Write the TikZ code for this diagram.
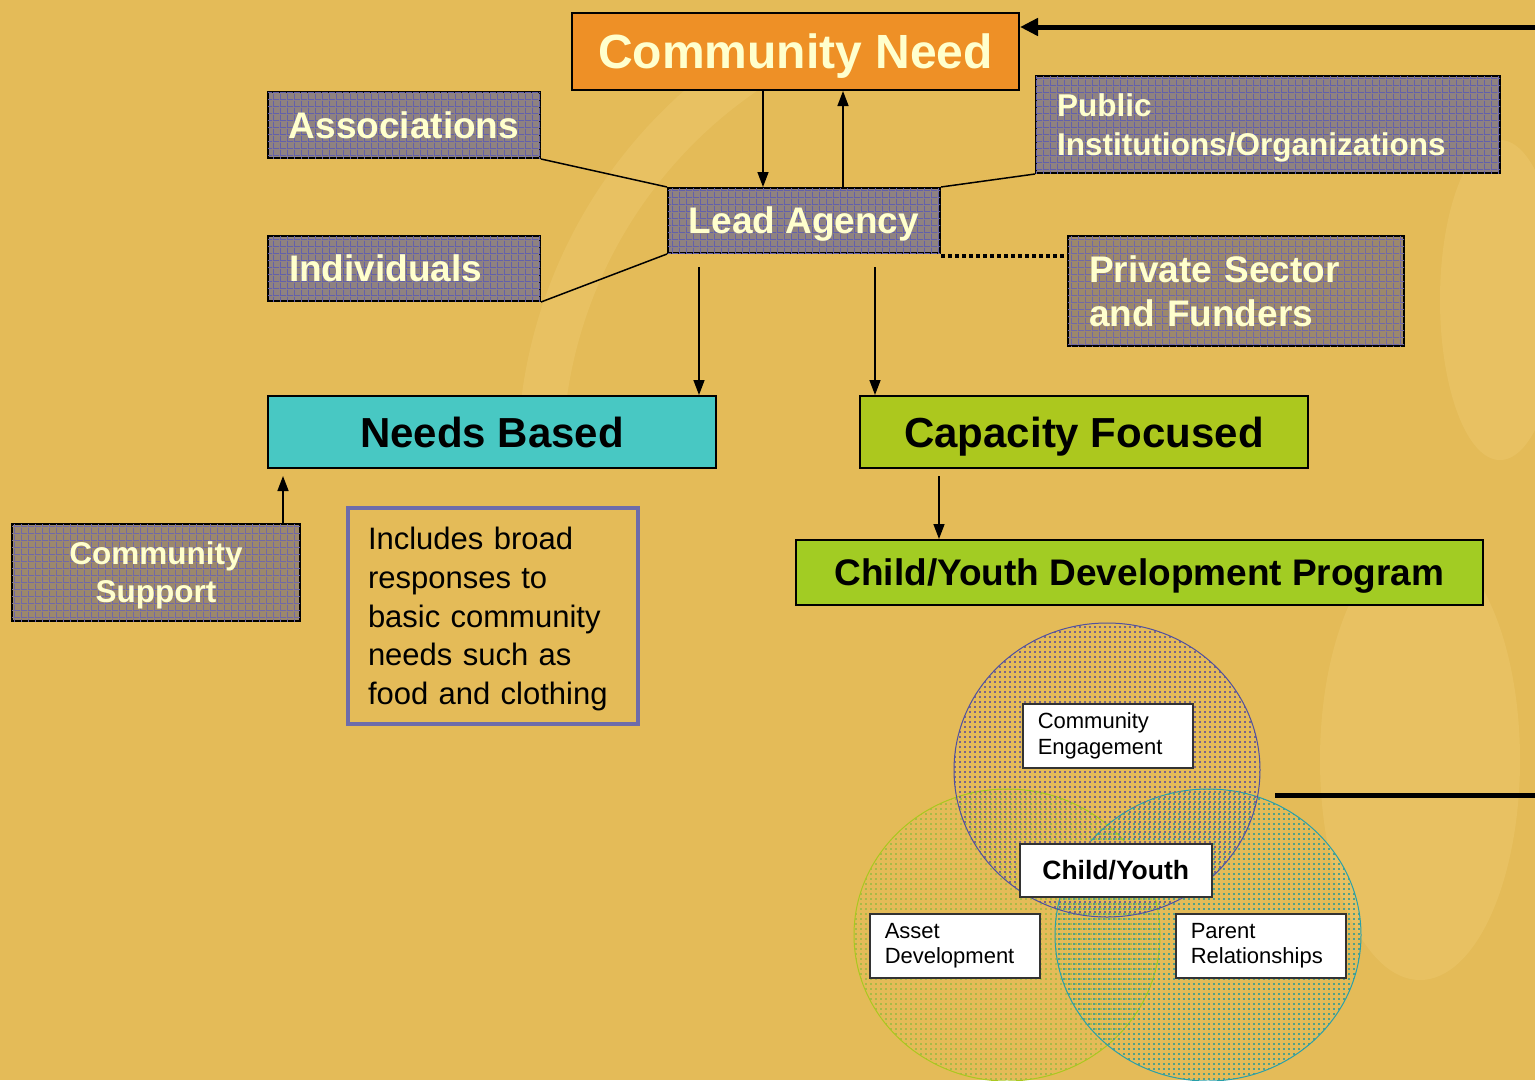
\documentclass[tikz,border=0pt]{standalone}
\usepackage{fontspec}
\setmainfont{Liberation Sans}
\usetikzlibrary{arrows.meta,patterns,calc}
\pgfdeclarepatternformonly{biggrid}{\pgfpointorigin}{\pgfqpoint{7pt}{7pt}}{\pgfqpoint{7pt}{7pt}}{%
  \pgfsetlinewidth{1pt}%
  \pgfpathmoveto{\pgfqpoint{0pt}{0.5pt}}\pgfpathlineto{\pgfqpoint{7pt}{0.5pt}}%
  \pgfpathmoveto{\pgfqpoint{0.5pt}{0pt}}\pgfpathlineto{\pgfqpoint{0.5pt}{7pt}}%
  \pgfusepath{stroke}}
\pgfdeclarepatternformonly{sqdots}{\pgfpointorigin}{\pgfqpoint{4.5pt}{4.5pt}}{\pgfqpoint{4.5pt}{4.5pt}}{%
  \pgfpathrectangle{\pgfqpoint{0pt}{0pt}}{\pgfqpoint{2pt}{2pt}}%
  \pgfusepath{fill}}
\definecolor{bgc}{RGB}{228,187,88}
\definecolor{bglight}{RGB}{238,203,115}
\definecolor{purp}{RGB}{143,130,128}
\definecolor{purpgrid}{RGB}{98,96,172}
\definecolor{brn}{RGB}{156,136,108}
\definecolor{brngrid}{RGB}{112,104,168}
\definecolor{orng}{RGB}{238,144,38}
\definecolor{cyn}{RGB}{72,200,195}
\definecolor{ygrn}{RGB}{172,200,30}
\definecolor{grn}{RGB}{162,204,35}
\definecolor{ltxt}{RGB}{255,255,205}
\definecolor{bluecirc}{RGB}{80,80,160}
\definecolor{greencirc}{RGB}{170,200,30}
\definecolor{tealcirc}{RGB}{40,160,170}
\definecolor{bluedot}{RGB}{120,100,140}
\definecolor{greendot}{RGB}{170,185,70}
\definecolor{tealdot}{RGB}{80,160,140}
\definecolor{incl}{RGB}{110,108,170}
\tikzset{
  box/.style={draw=black, line width=2pt, anchor=north west, inner sep=0pt},
  gridfill/.style={postaction={pattern=biggrid, pattern color=#1}},
  arr/.style={line width=1.5pt, -{Triangle[length=15pt,width=11pt]}},
  plain/.style={line width=1.5pt},
  whitebox/.style={draw=black!80, line width=1.5pt, fill=white, anchor=north west, inner sep=0pt},
  circ/.style={line width=1pt},
  label/.style={inner sep=0pt}
}
\begin{document}
\begin{tikzpicture}[x=1pt,y=-1pt]
\fill[bgc] (0,0) rectangle (1535,1080);
\useasboundingbox (0,0) rectangle (1535,1080);
% faint background swirls
\begin{scope}[opacity=0.4]
\draw[bglight, line width=45pt] (540,460) arc[start angle=180, end angle=242, x radius=470, y radius=470];
\fill[bglight] (1420,760) ellipse [x radius=100, y radius=220];
\fill[bglight] (1500,300) ellipse [x radius=60, y radius=160];
\end{scope}

% circles
\draw[circ, draw=greencirc, pattern=sqdots, pattern color=greendot] (1007,935) ellipse [x radius=153, y radius=146];
\draw[circ, draw=tealcirc, pattern=sqdots, pattern color=tealdot] (1208,935) ellipse [x radius=153, y radius=146];
\draw[circ, draw=bluecirc, pattern=sqdots, pattern color=bluedot] (1107,770) ellipse [x radius=153, y radius=147];

% boxes
\node[box, fill=orng, minimum width=447pt, minimum height=77pt, text=ltxt, text depth=0pt, font=\fontsize{48}{52}\selectfont\bfseries] (need) at (571,12) {Community Need};
\node[box, fill=purp, gridfill=purpgrid, minimum width=272pt, minimum height=66pt, text=ltxt, font=\fontsize{37}{42}\selectfont\bfseries] (assoc) at (267,91) {Associations};
\node[box, fill=purp, gridfill=purpgrid, minimum width=272pt, minimum height=65pt, text=ltxt, inner xsep=21pt, text width=230pt, align=left, font=\fontsize{37}{42}\selectfont\bfseries] (indiv) at (267,235) {Individuals};
\node[box, fill=purp, gridfill=purpgrid, minimum width=272pt, minimum height=65pt, text=ltxt, text depth=0pt, font=\fontsize{37}{42}\selectfont\bfseries] (lead) at (667,187) {Lead Agency};
\node[box, fill=purp, gridfill=purpgrid, minimum width=464pt, minimum height=97pt] (public) at (1035,75) {};
\node[label, text=ltxt, text width=422pt, align=left, font=\fontsize{31.5}{39}\selectfont\bfseries] (publict) at ([yshift=-3pt]public.center) {Public\\Institutions/Organizations};
\node[box, fill=brn, gridfill=brngrid, minimum width=336pt, minimum height=110pt, text=ltxt, inner xsep=21pt, text width=294pt, align=left, font=\fontsize{37}{44}\selectfont\bfseries] (private) at (1067,235) {Private Sector\\and Funders};
\node[box, fill=cyn, minimum width=448pt, minimum height=72pt, text=black, font=\fontsize{42}{46}\selectfont\bfseries] (needs) at (267,395) {Needs Based};
\node[box, fill=ygrn, minimum width=448pt, minimum height=72pt, text=black, text depth=0pt, font=\fontsize{42}{46}\selectfont\bfseries] (capacity) at (859,395) {Capacity Focused};
\node[box, fill=grn, minimum width=687pt, minimum height=65pt, text=black, text depth=0pt, font=\fontsize{37}{42}\selectfont\bfseries] (cydp) at (795,539) {Child/Youth Development Program};
\node[box, fill=brn, gridfill=brngrid, minimum width=288pt, minimum height=97pt] (support) at (11,523) {};
\node[label, text=ltxt, align=center, font=\fontsize{31.5}{38}\selectfont\bfseries] (supportt) at ([yshift=-3pt]support.center) {Community\\Support};
\node[box, draw=incl, line width=4pt, minimum width=290pt, minimum height=216pt] (includes) at (346,506) {};
\node[label, text width=250pt, align=left, font=\fontsize{31}{38.7}\selectfont] (includest) at ([yshift=-3pt]includes.center) {Includes broad\\responses to\\basic community\\needs such as\\food and clothing};

% white boxes in circles
\node[whitebox, minimum width=170pt, minimum height=64pt, inner xsep=15pt, text width=140pt, align=left, font=\fontsize{22}{25.5}\selectfont] (ce) at (1022,703) {Community\\Engagement};
\node[whitebox, minimum width=192pt, minimum height=53pt, text depth=0pt, font=\fontsize{26.5}{30}\selectfont\bfseries] (cy) at (1019,843) {Child/Youth};
\node[whitebox, minimum width=170pt, minimum height=64pt, inner xsep=15pt, text width=140pt, align=left, font=\fontsize{22}{25.5}\selectfont] (ad) at (869,913) {Asset\\Development};
\node[whitebox, minimum width=170pt, minimum height=64pt, inner xsep=15pt, text width=140pt, align=left, font=\fontsize{22}{25.5}\selectfont] (pr) at (1175,913) {Parent\\Relationships};

% connectors
\coordinate (topR) at (1535,27);
\draw[line width=5pt, -{Triangle[length=18pt,width=17pt]}] (topR) -- (topR -| need.east);
\coordinate (botL) at (1275,795);
\coordinate (botR) at (1535,795);
\draw[line width=5pt] (botL) -- (botR);

\draw[arr] ([xshift=192pt]need.south west) -- ([xshift=96pt]lead.north west);
\draw[arr] ([xshift=176pt]lead.north west) -- ([xshift=272pt]need.south west);

\draw[plain] (assoc.south east) -- (lead.north west);
\draw[plain] (indiv.south east) -- (lead.south west);
\draw[plain] (public.south west) -- (lead.north east);
\draw[line width=4pt, dash pattern=on 4pt off 3pt] ([yshift=-2pt]lead.south east) -- ([yshift=-2pt]lead.south east -| private.west);

\coordinate (n1) at (699,267);
\draw[arr] (n1) -- (n1 |- needs.north);
\coordinate (c1) at (875,267);
\draw[arr] (c1) -- (c1 |- capacity.north);
\coordinate (c2) at (939,476);
\draw[arr] (c2) -- (c2 |- cydp.north);
\coordinate (s1) at (283,476);
\draw[arr] (s1 |- support.north) -- (s1);
\end{tikzpicture}
\end{document}
